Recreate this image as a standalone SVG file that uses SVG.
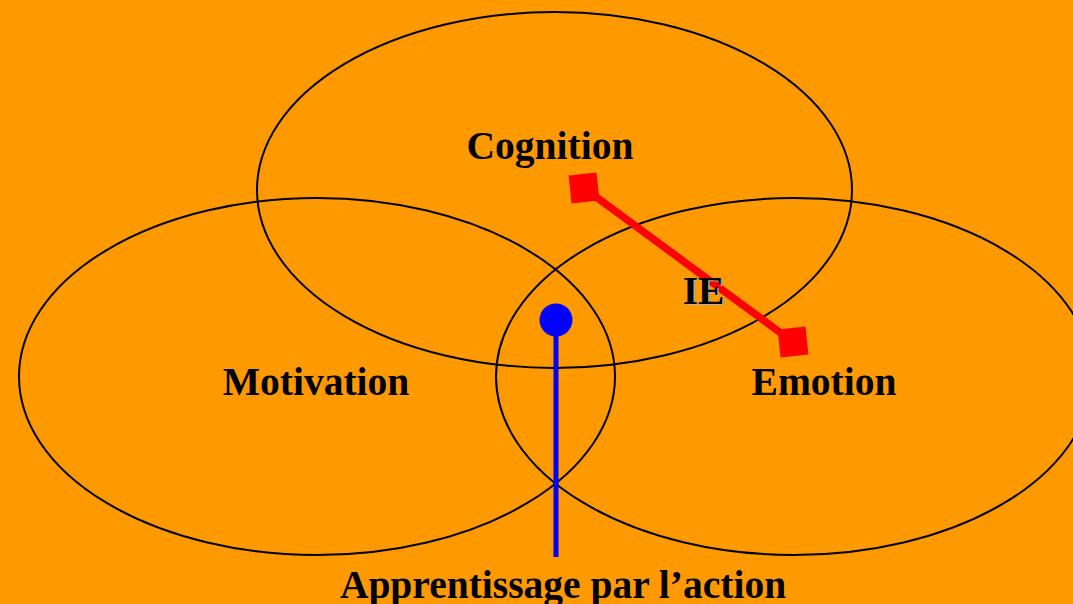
<svg xmlns="http://www.w3.org/2000/svg" width="1073" height="604" viewBox="0 0 1073 604">
<style>
.ring{fill:none;stroke:#000;stroke-width:2}
.lbl{font-family:"Liberation Serif","Times New Roman",serif;font-weight:bold;font-size:39.5px;fill:#000;text-anchor:middle}
.shadow{fill:#b4b4b4}
</style>
<rect x="0" y="0" width="1073" height="604" fill="#FF9900"/>
<g id="cognition">
<ellipse class="ring" cx="554.5" cy="190" rx="297.5" ry="178"/>
<text class="lbl" x="550" y="159">Cognition</text>
</g>
<g id="motivation">
<ellipse class="ring" cx="317" cy="376.5" rx="298" ry="178.5"/>
<text class="lbl" x="316" y="395">Motivation</text>
</g>
<g id="emotion">
<ellipse class="ring" cx="794" cy="376.5" rx="298" ry="178.5"/>
<text class="lbl" x="824" y="395">Emotion</text>
</g>
<g id="connectors">
<line x1="584" y1="188" x2="793" y2="342" stroke="#FF0000" stroke-width="7.5"/>
<rect x="570" y="174" width="28" height="28" fill="#FF0000" transform="rotate(-6 584 188)"/>
<rect x="779" y="328" width="28" height="28" fill="#FF0000" transform="rotate(-6 793 342)"/>
<line x1="556" y1="320" x2="556" y2="557" stroke="#0000FF" stroke-width="5"/>
<circle cx="556" cy="320" r="16.5" fill="#0000FF"/>
</g>
<g id="ie">
<text class="lbl shadow" x="705" y="305" font-size="44">IE</text>
<text class="lbl" x="703.5" y="303.5" font-size="44">IE</text>
</g>
<g id="apprentissage">
<text class="lbl" x="563" y="598">Apprentissage par l’action</text>
</g>
</svg>
